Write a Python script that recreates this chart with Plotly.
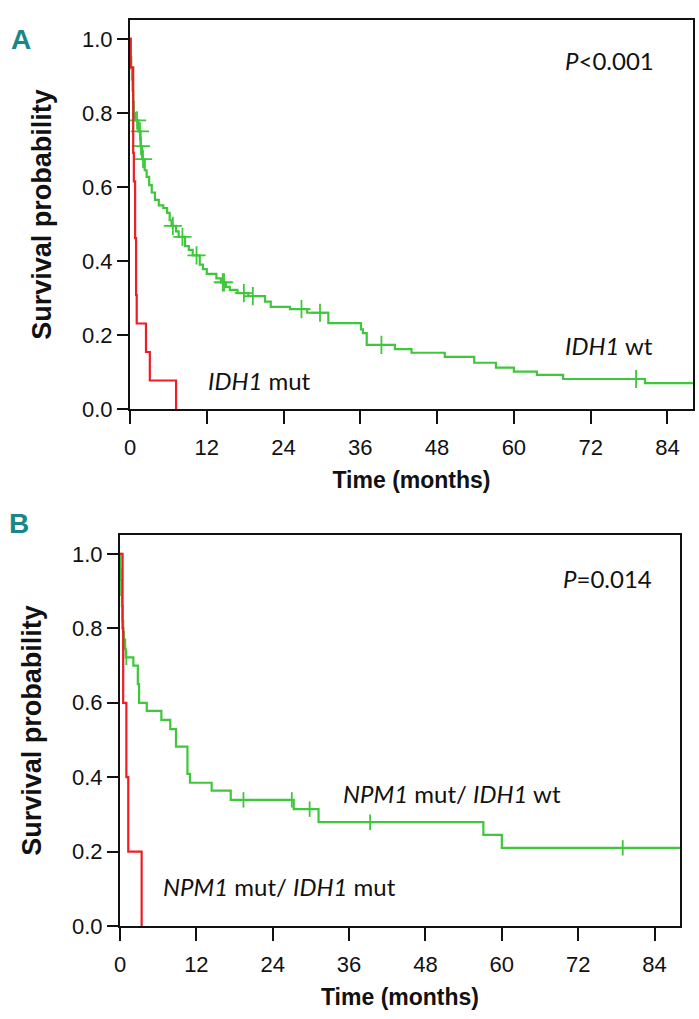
import plotly.graph_objects as go

# ---------------- Data ----------------
# Panel A: IDH1 mut (red)
a_mut_t = [0, 0.1, 0.5, 0.6, 0.8, 0.95, 1.05, 2.5, 3.1, 7.2]
a_mut_s = [1.0, 0.923, 0.692, 0.615, 0.462, 0.308, 0.231, 0.154, 0.077, 0.0]

# Panel A: IDH1 wt (green)
a_wt_t = [0, 0.1, 0.2, 0.3, 0.4, 0.5, 0.6, 0.8, 1.3, 1.65, 1.9, 2.3, 2.6, 3.0, 3.4,
          3.9, 4.5, 5.2, 5.8, 6.2, 6.5, 7.2, 7.6, 8.6, 9.2, 9.8, 10.9, 11.4, 12.0,
          13.5, 14.2, 15.0, 15.6, 16.8, 18.5, 21.1, 22.0, 25.0, 27.7, 31.0, 36.1,
          36.4, 37.0, 41.4, 44.0, 49.2, 53.8, 57.2, 60.0, 63.6, 67.7, 80.5, 88.0]
a_wt_s = [1.0, 0.95, 0.92, 0.89, 0.86, 0.83, 0.80, 0.78, 0.75, 0.71, 0.675, 0.645, 0.627,
          0.605, 0.585, 0.565, 0.55, 0.543, 0.53, 0.51, 0.495, 0.48, 0.465, 0.44, 0.43,
          0.415, 0.39, 0.378, 0.365, 0.353, 0.342, 0.33, 0.322, 0.313, 0.305, 0.29,
          0.276, 0.27, 0.26, 0.232, 0.215, 0.205, 0.173, 0.162, 0.152, 0.141, 0.125,
          0.112, 0.101, 0.092, 0.081, 0.07, 0.07]
a_wt_cens = [1.1, 1.56, 1.72, 2.03, 6.7, 8.2, 10.4, 14.5, 14.7, 17.8, 19.2, 26.8, 29.7,
             39.3, 79.1]

# Panel B: NPM1 mut / IDH1 mut (red)
b_mut_t = [0, 0.4, 0.5, 1.0, 1.3, 3.4]
b_mut_s = [1.0, 0.8, 0.6, 0.4, 0.2, 0.0]

# Panel B: NPM1 mut / IDH1 wt (green)
b_wt_t = [0, 0.05, 0.1, 0.2, 0.3, 0.4, 0.5, 0.6, 0.8, 0.9, 2.1, 2.8, 3.0, 4.2, 6.5, 7.9,
          8.8, 10.6, 11.0, 14.4, 17.4, 27.3, 31.2, 57.1, 60.0, 88.0]
b_wt_s = [1.0, 0.96, 0.93, 0.89, 0.86, 0.82, 0.79, 0.77, 0.745, 0.722, 0.70, 0.65, 0.60,
          0.578, 0.554, 0.529, 0.482, 0.409, 0.385, 0.364, 0.339, 0.314, 0.279, 0.245,
          0.21, 0.21]
b_wt_cens = [1.0, 19.4, 27.0, 29.8, 39.3, 79.0]

x_ticks = [0, 12, 24, 36, 48, 60, 72, 84]
y_ticks = [0.0, 0.2, 0.4, 0.6, 0.8, 1.0]
y_ticklabels = ["0.0", "0.2", "0.4", "0.6", "0.8", "1.0"]

RED = "#ee1c25"
GREEN = "#3ec73a"
TEAL = "#17878a"
W, H = 699, 1019


def step_value(ts, ss, t):
    v = ss[0]
    for ti, si in zip(ts, ss):
        if ti <= t:
            v = si
    return v


fig = go.Figure()

# Panel A
fig.add_trace(go.Scatter(x=a_wt_t, y=a_wt_s, mode="lines", line=dict(color=GREEN, width=2.2, shape="hv"),
                         xaxis="x", yaxis="y", showlegend=False))
fig.add_trace(go.Scatter(x=a_wt_cens, y=[step_value(a_wt_t, a_wt_s, t) for t in a_wt_cens],
                         mode="markers",
                         marker=dict(symbol="cross-thin", size=13, line=dict(color=GREEN, width=1.8)),
                         xaxis="x", yaxis="y", showlegend=False))
fig.add_trace(go.Scatter(x=a_mut_t, y=a_mut_s, mode="lines", line=dict(color=RED, width=2.2, shape="hv"),
                         xaxis="x", yaxis="y", showlegend=False))

# Panel B
fig.add_trace(go.Scatter(x=b_wt_t, y=b_wt_s, mode="lines", line=dict(color=GREEN, width=2.2, shape="hv"),
                         xaxis="x2", yaxis="y2", showlegend=False))
fig.add_trace(go.Scatter(x=b_wt_cens, y=[step_value(b_wt_t, b_wt_s, t) for t in b_wt_cens],
                         mode="markers",
                         marker=dict(symbol="line-ns", size=11, line=dict(color=GREEN, width=1.8)),
                         xaxis="x2", yaxis="y2", showlegend=False))
fig.add_trace(go.Scatter(x=b_mut_t, y=b_mut_s, mode="lines", line=dict(color=RED, width=2.2, shape="hv"),
                         xaxis="x2", yaxis="y2", showlegend=False))

TICKFONT = dict(family="Liberation Sans, Arial, sans-serif", size=22, color="#111")
TITLEFONT = dict(family="Liberation Sans, Arial, sans-serif", size=23, color="#111")


def xaxis(domain, anchor):
    return dict(domain=domain, anchor=anchor, range=[0, 88], tickmode="array", tickvals=x_ticks,
                ticks="outside", ticklen=13, tickwidth=2.2, tickcolor="#111",
                showline=True, linecolor="#111", linewidth=2.2, mirror=True,
                showgrid=False, zeroline=False, tickfont=TICKFONT, automargin=False,
                ticklabelstandoff=4,
                title=dict(text="<b>Time (months)</b>", font=TITLEFONT, standoff=13))


def yaxis(domain, anchor):
    return dict(domain=domain, anchor=anchor, range=[0, 1.051], tickmode="array", tickvals=y_ticks,
                ticktext=y_ticklabels, ticks="outside", ticklen=11, tickwidth=2.2, tickcolor="#111",
                showline=True, linecolor="#111", linewidth=2.2, mirror=True,
                showgrid=False, zeroline=False, tickfont=TICKFONT, automargin=False,
                title=dict(text="<b>Survival probability</b>", font=dict(TITLEFONT, size=27), standoff=22))


fig.update_layout(
    width=W, height=H, margin=dict(l=0, r=0, t=0, b=0, autoexpand=False),
    paper_bgcolor="white", plot_bgcolor="white",
    xaxis=xaxis([130 / W, 693 / W], "y"),
    yaxis=yaxis([1 - 409 / H, 1 - 20 / H], "x"),
    xaxis2=xaxis([120 / W, 680 / W], "y2"),
    yaxis2=yaxis([1 - 926 / H, 1 - 535 / H], "x2"),
)

LABELFONT = dict(family="Lato, Open Sans, sans-serif", size=24, color="#111")
LETTERFONT = dict(family="Liberation Sans Narrow, Liberation Sans, Arial, sans-serif", size=28, color=TEAL)

annots = [
    dict(text="<b>A</b>", x=9 / W, y=1 - 40 / H, xanchor="left", yanchor="middle", font=LETTERFONT),
    dict(text="<b>B</b>", x=7 / W, y=1 - 523 / H, xanchor="left", yanchor="middle", font=LETTERFONT),
    dict(text="<i>P</i><0.001", x=563 / W, y=1 - 60 / H, xanchor="left", yanchor="middle", font=LABELFONT),
    dict(text="<i>IDH1</i> wt", x=563 / W, y=1 - 346 / H, xanchor="left", yanchor="middle", font=LABELFONT),
    dict(text="<i>IDH1</i> mut", x=206 / W, y=1 - 380 / H, xanchor="left", yanchor="middle", font=LABELFONT),
    dict(text="<i>P</i>=0.014", x=561 / W, y=1 - 578 / H, xanchor="left", yanchor="middle", font=LABELFONT),
    dict(text="<i>NPM1</i> mut/ <i>IDH1</i> wt", x=341 / W, y=1 - 793 / H, xanchor="left",
         yanchor="middle", font=LABELFONT),
    dict(text="<i>NPM1</i> mut/ <i>IDH1</i> mut", x=161 / W, y=1 - 886 / H, xanchor="left",
         yanchor="middle", font=LABELFONT),
]
for a in annots:
    a.update(xref="paper", yref="paper", showarrow=False)
fig.update_layout(annotations=annots)

fig.write_html("out.html", config={"displayModeBar": False},
               post_script="document.body.style.margin='0px';document.body.style.overflow='hidden';")
